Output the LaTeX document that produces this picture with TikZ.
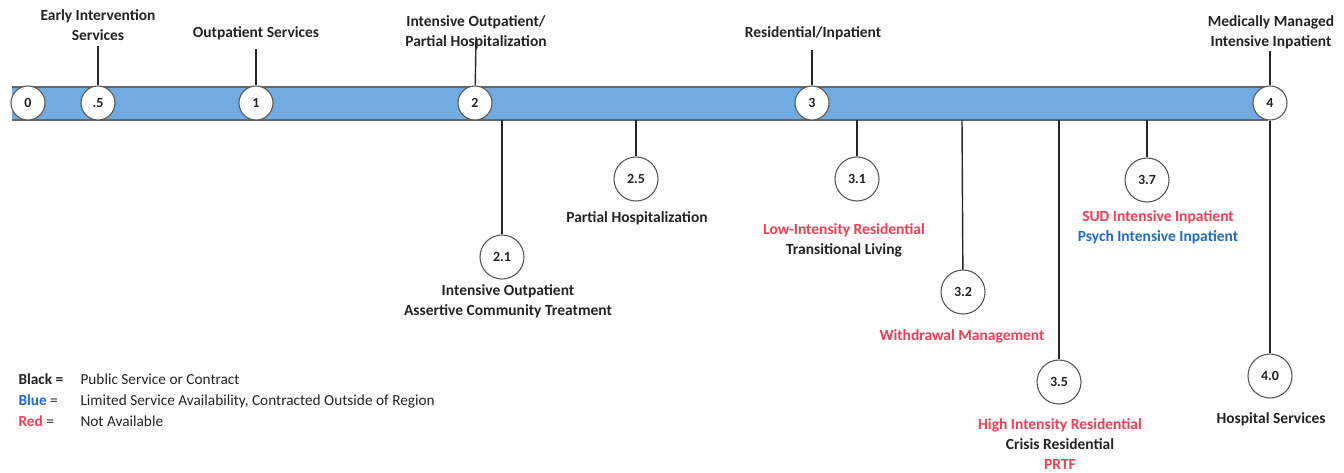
\documentclass[tikz,border=0pt]{standalone}
\usepackage{fontspec}
\setmainfont{Carlito}
\definecolor{barblue}{RGB}{112,172,226}
\definecolor{nored}{RGB}{240,62,82}
\definecolor{limblue}{RGB}{28,108,200}
\definecolor{txt}{RGB}{35,35,35}

\begin{document}
\begin{tikzpicture}[x=1pt,y=-1pt,
    main/.style = {draw=black!65, circle, fill=white, minimum size=34pt, inner sep=0pt,
                   line width=1.1pt, text=txt, font=\bfseries\fontsize{14}{14}\selectfont},
    sub/.style = {main, minimum size=44pt},
    lbl/.style = {text=txt, align=center, font=\bfseries\fontsize{15.5}{20}\selectfont},
    key/.style = {text=txt, anchor=base west, font=\fontsize{15.3}{15.3}\selectfont},
    tick/.style = {line width=1.4pt, black!85}]
\useasboundingbox (0,0) rectangle (1344,472);

% the bar
\fill[barblue] (12,87) rectangle (1268,120);
\draw[black!60, line width=1.2pt] (12,87) -- (1268,87);
\draw[black!60, line width=1.2pt] (12,120) -- (1268,120);

% levels on the bar
\node[main] (c0) at (28,103) {0};
\node[main] (c05) at (98,103) {.5};
\node[main] (c1) at (256,103) {1};
\node[main] (c2) at (475,103) {2};
\node[main] (c3) at (812,103) {3};
\node[main] (c4) at (1270,103) {4};

% labels above
\node[lbl] (l05) at (98,25) {Early Intervention\\Services};
\node[lbl] (l1) at (256,33) {Outpatient Services};
\node[lbl] (l2) at (476,32) {Intensive Outpatient/\\Partial Hospitalization};
\node[lbl] (l3) at (813,33) {Residential/Inpatient};
\node[lbl] (l4) at (1271,32) {Medically Managed\\Intensive Inpatient};

\coordinate (t05) at (98,46);
\coordinate (t1) at (256,49);
\coordinate (t2) at (476,37);
\coordinate (t3) at (812,50);
\coordinate (t4) at (1270,51);
\draw[tick] (t05) -- (c05);
\draw[tick] (t1) -- (c1);
\draw[tick] (t2) -- (c2);
\draw[tick] (t3) -- (c3);
\draw[tick] (t4) -- (c4);

% sub levels below
\node[sub] (c21) at (502,257) {2.1};
\node[sub] (c25) at (636,179) {2.5};
\node[sub] (c31) at (857,179) {3.1};
\node[sub] (c32) at (963,292) {3.2};
\node[sub] (c35) at (1059,382) {3.5};
\node[sub] (c37) at (1147,180) {3.7};
\node[sub] (c40) at (1270,376) {4.0};

\coordinate (b21) at (502,120);
\coordinate (b25) at (636,120);
\coordinate (b31) at (857,120);
\coordinate (b32) at (962,120);
\coordinate (b35) at (1059,120);
\coordinate (b37) at (1147,120);
\draw[tick] (b21) -- (c21);
\draw[tick] (b25) -- (c25);
\draw[tick] (b31) -- (c31);
\draw[tick] (b32) -- (c32);
\draw[tick] (b35) -- (c35);
\draw[tick] (b37) -- (c37);
\draw[tick] (c4) -- (c40);

\node[lbl] (l21) at (508,301) {Intensive Outpatient\\Assertive Community Treatment};
\node[lbl] (l25) at (637,218) {Partial Hospitalization};
\node[lbl] (l31) at (844,240) {\textcolor{nored}{Low-Intensity Residential}\\Transitional Living};
\node[lbl] (l32) at (962,336) {\textcolor{nored}{Withdrawal Management}};
\node[lbl] (l35) at (1060,444) {\textcolor{nored}{High Intensity Residential}\\Crisis Residential\\\textcolor{nored}{PRTF}};
\node[lbl] (l37) at (1158,227) {\textcolor{nored}{SUD Intensive Inpatient}\\\textcolor{limblue}{Psych Intensive Inpatient}};
\node[lbl] (l40) at (1271,419) {Hospital Services};

% legend
\node[key] (k1) at (15,384) {\textbf{Black =}};
\node[key] (k2) at (15,405) {\textbf{\textcolor{limblue}{Blue}} =};
\node[key] (k3) at (15,426) {\textbf{\textcolor{nored}{Red}} =};
\node[key] (d1) at (77,384) {Public Service or Contract};
\node[key] (d2) at (77,405) {Limited Service Availability, Contracted Outside of Region};
\node[key] (d3) at (77,426) {Not Available};
\end{tikzpicture}
\end{document}
